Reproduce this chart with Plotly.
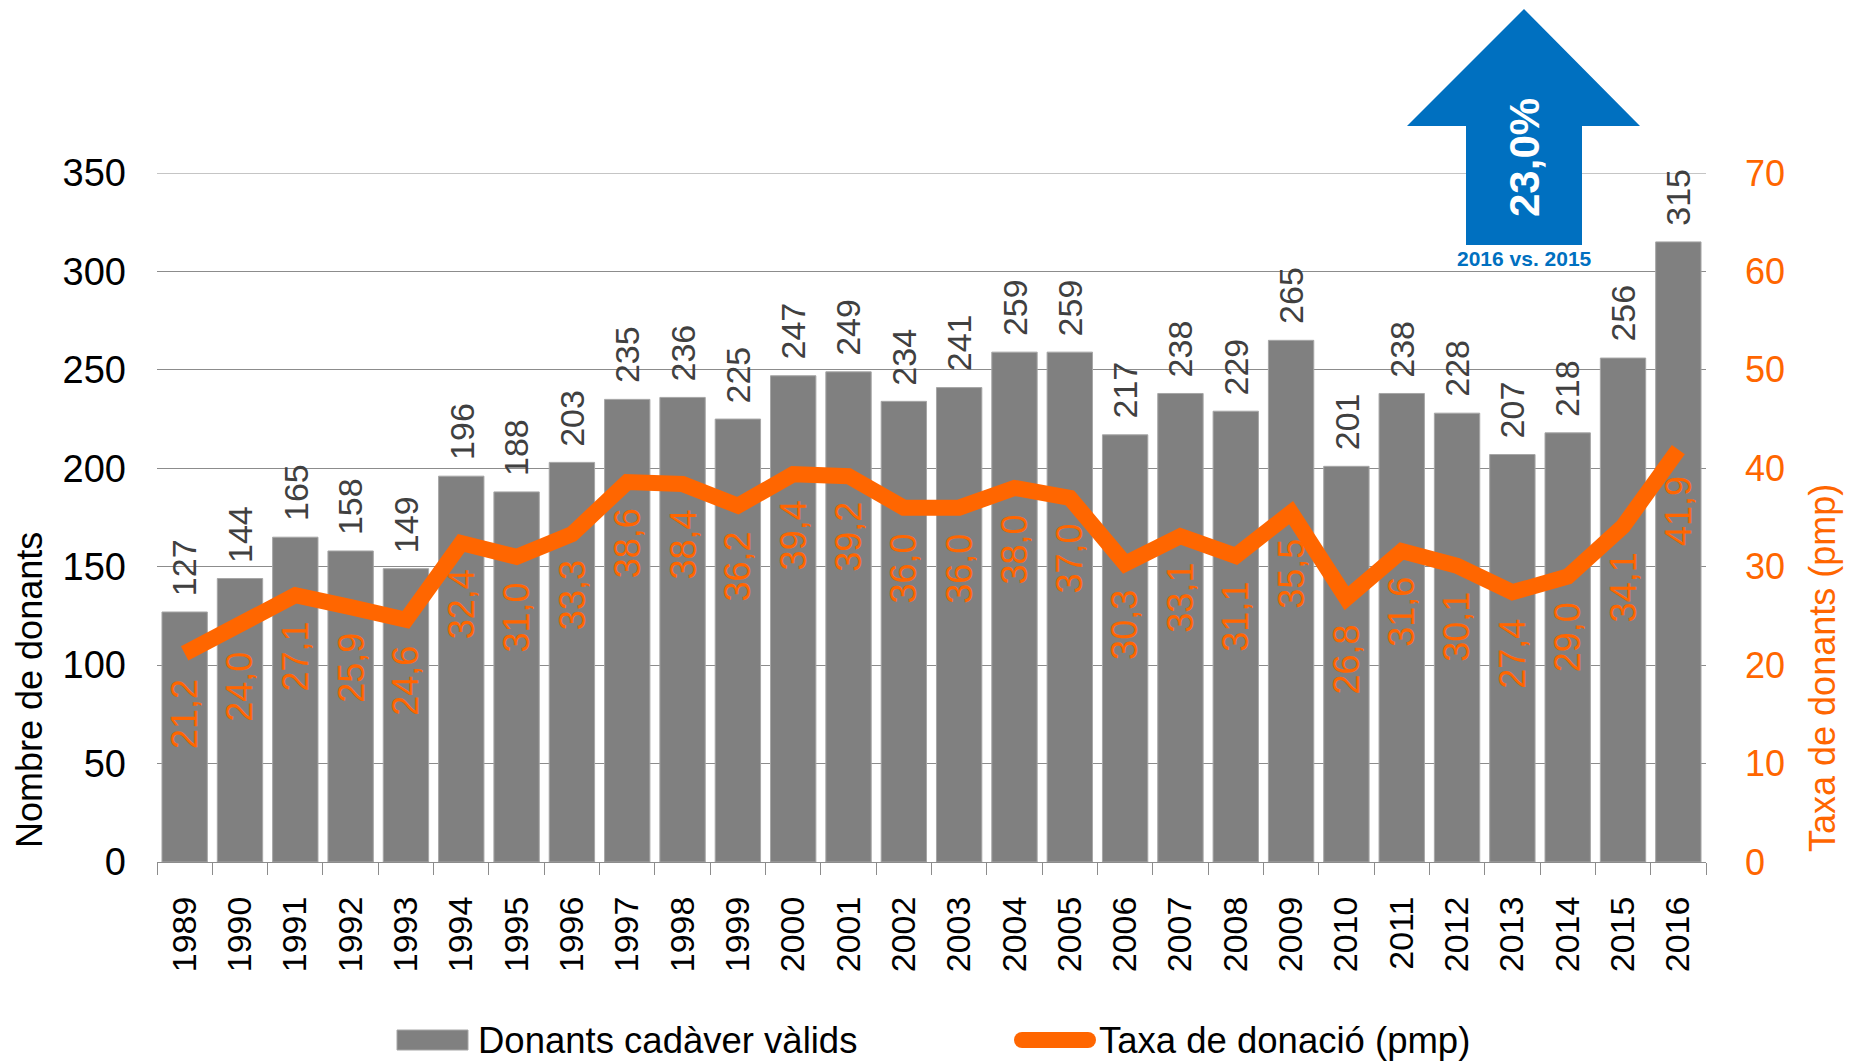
import plotly.graph_objects as go

years = [str(y) for y in range(1989, 2017)]
donors = [127, 144, 165, 158, 149, 196, 188, 203, 235, 236, 225, 247, 249, 234,
          241, 259, 259, 217, 238, 229, 265, 201, 238, 228, 207, 218, 256, 315]
rate = [21.2, 24.0, 27.1, 25.9, 24.6, 32.4, 31.0, 33.3, 38.6, 38.4, 36.2, 39.4, 39.2, 36.0,
        36.0, 38.0, 37.0, 30.3, 33.1, 31.1, 35.5, 26.8, 31.6, 30.1, 27.4, 29.0, 34.1, 41.9]
left_ticks = [0, 50, 100, 150, 200, 250, 300, 350]
right_ticks = [0, 10, 20, 30, 40, 50, 60, 70]

bar_name = "Donants cadàver vàlids"
line_name = "Taxa de donació (pmp)"
left_title = "Nombre de donants"
right_title = "Taxa de donants (pmp)"

FONT = "Liberation Sans, Arial, sans-serif"
ORANGE = "#FF6600"
GREY = "#808080"
BLUE = "#0070C0"
GRID = "#8C8C8C"

# plot-area geometry in pixels (used for decorations only)
L, R, T, B = 157, 1706, 173, 862
W, H = R - L, B - T


def px(v):
    return (v - L) / W


def py(v):
    return (B - v) / H


def fmt(v):
    return f"{v:.1f}".replace(".", ",")


fig = go.Figure()
fig.add_trace(go.Bar(
    x=years, y=donors, name=bar_name,
    marker=dict(color=GREY, line=dict(color="#A6A6A6", width=1)),
    yaxis="y", showlegend=False,
))
fig.add_trace(go.Scatter(
    x=years, y=rate, name=line_name, mode="lines",
    line=dict(color=ORANGE, width=16),
    yaxis="y2", showlegend=False, cliponaxis=False,
))

annotations = []
for i, v in enumerate(donors):
    annotations.append(dict(
        x=i, y=v, xref="x", yref="y", text=str(v), showarrow=False,
        textangle=-90, xanchor="center", yanchor="bottom", yshift=14,
        font=dict(family=FONT, size=34, color="#404040"),
    ))
for i, v in enumerate(rate):
    annotations.append(dict(
        x=i, y=v, xref="x", yref="y2", text=fmt(v), showarrow=False,
        textangle=-90, xanchor="center", yanchor="top", yshift=-24,
        font=dict(family=FONT, size=36, color=ORANGE),
    ))

# axis titles
annotations.append(dict(
    x=px(29), y=py(690), xref="paper", yref="paper", xanchor="center", yanchor="middle",
    text=left_title, showarrow=False, textangle=-90,
    font=dict(family=FONT, size=36, color="#000000"),
))
annotations.append(dict(
    x=px(1822), y=py(668), xref="paper", yref="paper",
    xanchor="center", yanchor="middle", text=right_title, showarrow=False,
    textangle=-90, font=dict(family=FONT, size=36, color=ORANGE),
))

# arrow annotation texts
pct = (donors[-1] / donors[-2] - 1) * 100
annotations.append(dict(
    x=px(1524), y=py(158), xref="paper", yref="paper",
    text=f"<b>{fmt(pct)}%</b>", showarrow=False, textangle=-90,
    xanchor="center", yanchor="middle",
    font=dict(family=FONT, size=42, color="white"),
))
annotations.append(dict(
    x=px(1524), y=py(258), xref="paper", yref="paper",
    text=f"<b>{years[-1]} vs. {years[-2]}</b>", showarrow=False,
    xanchor="center", yanchor="middle",
    font=dict(family=FONT, size=21, color=BLUE),
))

# legend texts
annotations.append(dict(
    x=px(476), y=py(1040), xref="paper", yref="paper",
    text=bar_name, showarrow=False, xanchor="left", yanchor="middle",
    font=dict(family=FONT, size=36.5, color="#000000"),
))
annotations.append(dict(
    x=px(1097), y=py(1040), xref="paper", yref="paper",
    text=line_name, showarrow=False, xanchor="left", yanchor="middle",
    font=dict(family=FONT, size=36.5, color="#000000"),
))

arrow_path = (
    f"M {px(1524)} {py(9)} L {px(1640)} {py(126)} L {px(1582)} {py(126)} "
    f"L {px(1582)} {py(245)} L {px(1466)} {py(245)} L {px(1466)} {py(126)} "
    f"L {px(1407)} {py(126)} Z"
)
shapes = [
    # top gridline (at the upper edge of the value axis)
    dict(type="line", xref="paper", yref="y", x0=0, x1=1,
         y0=left_ticks[-1], y1=left_ticks[-1], line=dict(color=GRID, width=1),
         layer="below"),
    dict(type="path", path=arrow_path, xref="paper", yref="paper",
         fillcolor=BLUE, line=dict(width=0), layer="above"),
    dict(type="rect", xref="paper", yref="paper",
         x0=px(397), x1=px(468), y0=py(1050), y1=py(1030),
         fillcolor=GREY, line=dict(color="#A6A6A6", width=1)),
    dict(type="line", xref="paper", yref="paper",
         x0=px(1022), x1=px(1088), y0=py(1040), y1=py(1040),
         line=dict(color=ORANGE, width=16)),
    dict(type="circle", xref="paper", yref="paper",
         x0=px(1014), x1=px(1030), y0=py(1048), y1=py(1032),
         fillcolor=ORANGE, line=dict(width=0)),
    dict(type="circle", xref="paper", yref="paper",
         x0=px(1080), x1=px(1096), y0=py(1048), y1=py(1032),
         fillcolor=ORANGE, line=dict(width=0)),
]

fig.update_layout(
    width=1849, height=1061,
    margin=dict(l=L, r=1849 - R, t=T, b=1061 - B, autoexpand=False),
    paper_bgcolor="white", plot_bgcolor="white",
    bargap=0.18,
    showlegend=False,
    font=dict(family=FONT, size=35, color="#000000"),
    xaxis=dict(
        type="category", categoryorder="array", categoryarray=years,
        range=[-0.5, len(years) - 0.5], autorange=False,
        tickangle=-90, tickson="boundaries", ticks="outside", ticklen=12,
        tickcolor=GRID, showline=True, linecolor=GRID, linewidth=1,
        showgrid=False, ticklabelstandoff=20,
        tickfont=dict(family=FONT, size=34, color="#000000"),
    ),
    yaxis=dict(
        range=[0, 350], tickvals=left_ticks, showgrid=True, gridcolor=GRID,
        gridwidth=1, zeroline=False, showline=False, ticks="",
        ticklabelstandoff=30,
        tickfont=dict(family=FONT, size=38, color="#000000"),
    ),
    yaxis2=dict(
        range=[0, 70], tickvals=right_ticks, overlaying="y", side="right",
        showgrid=False, zeroline=False, showline=False, ticks="",
        ticklabelstandoff=38,
        tickfont=dict(family=FONT, size=36, color=ORANGE),
    ),
    annotations=annotations,
    shapes=shapes,
)

fig.write_html("out.html", config={"displayModeBar": False},
               post_script="document.body.style.margin='0';")
